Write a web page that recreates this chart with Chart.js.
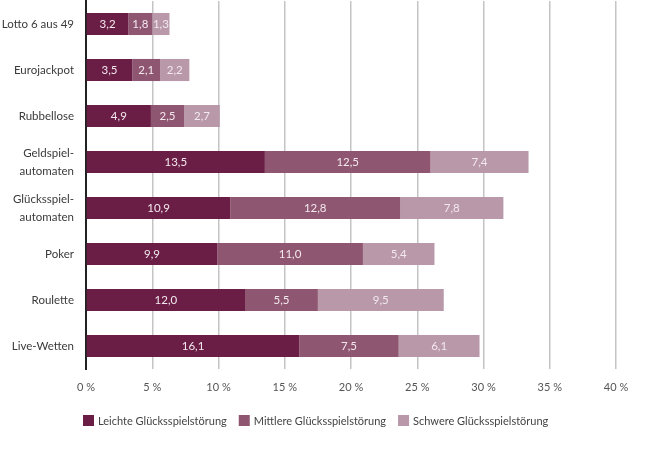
<!DOCTYPE html>
<html>
<head>
<meta charset="utf-8">
<script src="https://cdn.jsdelivr.net/npm/chart.js@4"></script>
<style>
  html, body { margin: 0; padding: 0; background: #fff; }
  #wrap { width: 666px; height: 462px; }
</style>
</head>
<body>
<div id="wrap"><canvas id="grafica" width="666" height="462"></canvas></div>
<script>
// Daten
const kategorien = ["Lotto 6 aus 49", "Eurojackpot", "Rubbellose", ["Geldspiel-", "automaten"],
  ["Glücksspiel-", "automaten"], "Poker", "Roulette", "Live-Wetten"];
const leichte  = [3.2, 3.5, 4.9, 13.5, 10.9, 9.9, 12.0, 16.1];
const mittlere = [1.8, 2.1, 2.5, 12.5, 12.8, 11.0, 5.5, 7.5];
const schwere  = [1.3, 2.2, 2.7, 7.4, 7.8, 5.4, 9.5, 6.1];
const xTicks = [0, 5, 10, 15, 20, 25, 30, 35, 40];

const farben = ["#6b1e45", "#8e5670", "#b898a9"];
const schrift = "Lato, 'Open Sans', sans-serif";

function zahl(v) { return v.toFixed(1).replace(".", ","); }

// Werte in die Balken schreiben
const wertePlugin = {
  id: 'werte',
  afterDatasetsDraw(chart) {
    const ctx = chart.ctx;
    ctx.save();
    ctx.font = "11.5px " + schrift;
    ctx.fillStyle = "#f3e8ee";
    ctx.textAlign = "center";
    ctx.textBaseline = "middle";
    chart.data.datasets.forEach((ds, i) => {
      chart.getDatasetMeta(i).data.forEach((bar, j) => {
        const x = (bar.x + bar.base) / 2;
        ctx.fillText(zahl(ds.data[j]), x, bar.y);
      });
    });
    ctx.restore();
  }
};

// Legende unten links
const legendePlugin = {
  id: 'legende',
  afterDraw(chart) {
    const ctx = chart.ctx;
    ctx.save();
    ctx.font = "11px " + schrift;
    ctx.textBaseline = "middle";
    let x = chart.chartArea.left - 3;
    const y = 421;
    chart.data.datasets.forEach(ds => {
      ctx.fillStyle = ds.backgroundColor;
      ctx.fillRect(x, y - 6, 11, 11);
      ctx.fillStyle = "#444";
      ctx.fillText(ds.label, x + 15, y);
      x += 15 + ctx.measureText(ds.label).width + 12;
    });
    ctx.restore();
  }
};

const ctx = document.getElementById('grafica').getContext('2d');
new Chart(ctx, {
  type: 'bar',
  data: {
    labels: kategorien,
    datasets: [
      { label: "Leichte Glücksspielstörung", data: leichte, backgroundColor: farben[0] },
      { label: "Mittlere Glücksspielstörung", data: mittlere, backgroundColor: farben[1] },
      { label: "Schwere Glücksspielstörung", data: schwere, backgroundColor: farben[2] }
    ]
  },
  options: {
    indexAxis: 'y',
    responsive: false,
    animation: false,
    layout: { padding: { top: 1, right: 50, left: 0, bottom: 0 } },
    datasets: { bar: { barPercentage: 0.96, categoryPercentage: 0.5, borderWidth: 0 } },
    plugins: { legend: { display: false }, tooltip: { enabled: false } },
    scales: {
      x: {
        stacked: true,
        min: 0, max: 40,
        afterBuildTicks: s => { s.ticks = xTicks.map(v => ({ value: v })); },
        afterFit: s => { s.height = 93; },
        grid: { color: "#c4c4c4", lineWidth: 1.5, drawTicks: false },
        border: { display: false },
        ticks: {
          padding: 12,
          color: "#555",
          font: { family: schrift, size: 11 },
          callback: v => v + " %"
        }
      },
      y: {
        stacked: true,
        afterFit: s => { s.width = 86; s.paddingTop = 0; s.paddingBottom = 0; },
        grid: { display: false, drawTicks: false },
        border: { display: true, color: "#222", width: 2 },
        ticks: {
          padding: 12,
          color: "#3a3a3a",
          font: { family: schrift, size: 11.5, lineHeight: 1.55 }
        }
      }
    }
  },
  plugins: [wertePlugin, legendePlugin]
});
</script>
</body>
</html>
